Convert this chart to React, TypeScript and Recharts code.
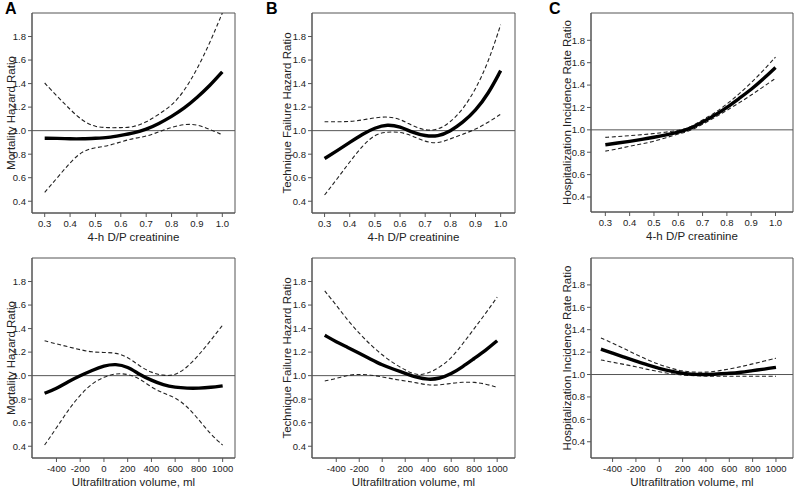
import { LineChart, Line, XAxis, YAxis, ReferenceLine, ReferenceArea } from "recharts"

// x grids
const dpX = [0.3, 0.35, 0.4, 0.45, 0.5, 0.55, 0.6, 0.65, 0.7, 0.75, 0.8, 0.85, 0.9, 0.95, 1.0]
const ufX = [-500, -400, -300, -200, -100, 0, 100, 200, 300, 400, 500, 600, 700, 800, 900, 1000]

// tick labels
const dpTicks = [0.3, 0.4, 0.5, 0.6, 0.7, 0.8, 0.9, 1.0]
const ufTicks = [-400, -200, 0, 200, 400, 600, 800, 1000]
const yTicks = [0.4, 0.6, 0.8, 1.0, 1.2, 1.4, 1.6, 1.8]

// A - mortality vs D/P creatinine
const mortDpEst = [0.935, 0.935, 0.93, 0.93, 0.935, 0.94, 0.96, 0.98, 1.01, 1.06, 1.12, 1.19, 1.28, 1.38, 1.5]
const mortDpUpper = [1.405, 1.29, 1.18, 1.08, 1.03, 1.025, 1.025, 1.03, 1.07, 1.14, 1.21, 1.335, 1.52, 1.74, 2.0]
const mortDpLower = [0.476, 0.6, 0.73, 0.83, 0.856, 0.87, 0.905, 0.935, 0.95, 0.99, 1.03, 1.055, 1.055, 1.01, 0.965]

// B - technique failure vs D/P creatinine
const techDpEst = [0.763, 0.83, 0.9, 0.97, 1.025, 1.054, 1.034, 0.985, 0.955, 0.95, 0.995, 1.07, 1.17, 1.31, 1.51]
const techDpUpper = [1.076, 1.076, 1.076, 1.09, 1.11, 1.12, 1.1, 1.04, 1.0, 1.005, 1.07, 1.18, 1.35, 1.575, 1.9]
const techDpLower = [0.453, 0.59, 0.735, 0.87, 0.97, 0.99, 0.99, 0.955, 0.905, 0.89, 0.93, 0.97, 1.01, 1.07, 1.14]

// C - hospitalization vs D/P creatinine
const hospDpEst = [0.867, 0.882, 0.897, 0.914, 0.933, 0.955, 0.979, 1.01, 1.07, 1.13, 1.2, 1.28, 1.36, 1.455, 1.557]
const hospDpUpper = [0.933, 0.94, 0.948, 0.957, 0.966, 0.98, 0.994, 1.02, 1.09, 1.15, 1.23, 1.32, 1.42, 1.53, 1.65]
const hospDpLower = [0.81, 0.83, 0.853, 0.875, 0.897, 0.93, 0.964, 0.99, 1.05, 1.11, 1.175, 1.24, 1.31, 1.385, 1.46]

// mortality vs ultrafiltration
const mortUfEst = [0.85, 0.89, 0.95, 1.0, 1.045, 1.085, 1.1, 1.076, 1.01, 0.96, 0.92, 0.9, 0.893, 0.893, 0.9, 0.913]
const mortUfUpper = [1.296, 1.27, 1.245, 1.22, 1.2, 1.197, 1.195, 1.16, 1.08, 1.025, 1.0, 1.0, 1.07, 1.175, 1.3, 1.43]
const mortUfLower = [0.41, 0.555, 0.71, 0.837, 0.935, 0.99, 1.02, 1.014, 0.977, 0.9, 0.85, 0.815, 0.74, 0.625, 0.5, 0.41]

// technique failure vs ultrafiltration
const techUfEst = [1.343, 1.287, 1.24, 1.19, 1.14, 1.09, 1.054, 1.02, 0.985, 0.965, 0.975, 1.014, 1.076, 1.146, 1.215, 1.297]
const techUfUpper = [1.72, 1.6, 1.47, 1.36, 1.26, 1.175, 1.104, 1.048, 1.0, 1.02, 1.07, 1.146, 1.27, 1.4, 1.53, 1.667]
const techUfLower = [0.955, 0.975, 1.005, 1.013, 1.005, 0.99, 0.97, 0.955, 0.94, 0.918, 0.92, 0.935, 0.945, 0.945, 0.93, 0.9]

// hospitalization vs ultrafiltration
const hospUfEst = [1.227, 1.19, 1.155, 1.12, 1.085, 1.055, 1.03, 1.01, 1.0, 1.0, 1.005, 1.01, 1.02, 1.035, 1.048, 1.064]
const hospUfUpper = [1.327, 1.28, 1.23, 1.18, 1.13, 1.09, 1.055, 1.03, 1.02, 1.02, 1.03, 1.05, 1.07, 1.095, 1.12, 1.145]
const hospUfLower = [1.13, 1.11, 1.09, 1.07, 1.045, 1.025, 1.005, 0.995, 0.99, 0.985, 0.985, 0.985, 0.985, 0.985, 0.985, 0.985]

const DP_LABEL = "4-h D/P creatinine"
const UF_LABEL = "Ultrafiltration volume, ml"

type Box = { x: number; y: number; w: number; h: number }

interface PanelProps {
  box: Box
  xs: number[]
  est: number[]
  upper: number[]
  lower: number[]
  xDomain: [number, number]
  yDomain: [number, number]
  xTicks: number[]
  xFmt: (v: number) => string
  xLabel: string
  yLabel: string
  yLabelGap: number
}

const YW = 36
const XH = 32
const PAD = 2

function Panel({ box, xs, est, upper, lower, xDomain, yDomain, xTicks, xFmt, xLabel, yLabel, yLabelGap }: PanelProps) {
  const data = xs.map((x, i) => ({ x, est: est[i], upper: upper[i], lower: lower[i] }))
  return (
    <div style={{ position: "absolute", left: box.x - YW, top: box.y - PAD }}>
      <LineChart
        width={YW + box.w + PAD}
        height={PAD + box.h + XH}
        data={data}
        margin={{ top: PAD, right: PAD, left: 0, bottom: 0 }}
      >
        <XAxis
          dataKey="x"
          type="number"
          domain={xDomain}
          allowDataOverflow
          ticks={xTicks}
          interval={0}
          tickFormatter={xFmt}
          height={XH}
          tickSize={4}
          tickMargin={3}
          stroke="#555"
          tick={{ fontSize: 9.5, fill: "#222" }}
          label={{ value: xLabel, position: "insideBottom", offset: 4, style: { fontSize: 11.5, fill: "#222" } }}
        />
        <YAxis
          type="number"
          domain={yDomain}
          allowDataOverflow
          ticks={yTicks}
          interval={0}
          tickFormatter={(v: number) => v.toFixed(1)}
          width={YW}
          tickSize={4}
          tickMargin={2}
          stroke="#555"
          tick={{ fontSize: 9.5, fill: "#222" }}
          label={{
            value: yLabel,
            angle: -90,
            position: "insideLeft",
            offset: YW - yLabelGap,
            style: { textAnchor: "middle", fontSize: 11.5, fill: "#222" },
          }}
        />
        <ReferenceArea
          x1={xDomain[0]}
          x2={xDomain[1]}
          y1={yDomain[0]}
          y2={yDomain[1]}
          fill="none"
          stroke="#555"
          strokeWidth={1}
          ifOverflow="visible"
        />
        <ReferenceLine y={1} stroke="#555" strokeWidth={1} />
        <Line dataKey="upper" type="basis" stroke="#222" strokeWidth={1.1} strokeDasharray="4 2.5" dot={false} isAnimationActive={false} />
        <Line dataKey="lower" type="basis" stroke="#222" strokeWidth={1.1} strokeDasharray="4 2.5" dot={false} isAnimationActive={false} />
        <Line dataKey="est" type="basis" stroke="#000" strokeWidth={3.4} dot={false} isAnimationActive={false} />
      </LineChart>
    </div>
  )
}

function Letter({ text, x }: { text: string; x: number }) {
  return (
    <div style={{ position: "absolute", left: x, top: 1, fontSize: 16, fontWeight: 700, lineHeight: "16px", color: "#000" }}>
      {text}
    </div>
  )
}

const fmtDp = (v: number) => v.toFixed(1)
const fmtUf = (v: number) => String(v)

export default function App() {
  return (
    <div
      style={{
        position: "absolute",
        left: 0,
        top: 0,
        width: 794,
        height: 490,
        background: "#fff",
        overflow: "hidden",
        fontFamily: "'Liberation Sans', Arial, sans-serif",
      }}
    >
      <Letter text="A" x={5} />
      <Letter text="B" x={266} />
      <Letter text="C" x={549} />

      <Panel box={{ x: 32, y: 13, w: 203, h: 200 }} xs={dpX} est={mortDpEst} upper={mortDpUpper} lower={mortDpLower}
        xDomain={[0.25, 1.05]} yDomain={[0.3, 2.0]} xTicks={dpTicks} xFmt={fmtDp}
        xLabel={DP_LABEL} yLabel="Mortality Hazard Ratio" yLabelGap={21} />
      <Panel box={{ x: 312, y: 13, w: 203, h: 200 }} xs={dpX} est={techDpEst} upper={techDpUpper} lower={techDpLower}
        xDomain={[0.25, 1.057]} yDomain={[0.3, 2.0]} xTicks={dpTicks} xFmt={fmtDp}
        xLabel={DP_LABEL} yLabel="Technique Failure Hazard Ratio" yLabelGap={25} />
      <Panel box={{ x: 591, y: 13, w: 202, h: 199 }} xs={dpX} est={hospDpEst} upper={hospDpUpper} lower={hospDpLower}
        xDomain={[0.241, 1.072]} yDomain={[0.266, 2.044]} xTicks={dpTicks} xFmt={fmtDp}
        xLabel={DP_LABEL} yLabel="Hospitalization Incidence Rate Ratio" yLabelGap={24} />

      <Panel box={{ x: 32, y: 258, w: 203, h: 200 }} xs={ufX} est={mortUfEst} upper={mortUfUpper} lower={mortUfLower}
        xDomain={[-606, 1104]} yDomain={[0.3, 2.0]} xTicks={ufTicks} xFmt={fmtUf}
        xLabel={UF_LABEL} yLabel="Mortality Hazard Ratio" yLabelGap={21} />
      <Panel box={{ x: 312, y: 258, w: 203, h: 200 }} xs={ufX} est={techUfEst} upper={techUfUpper} lower={techUfLower}
        xDomain={[-611, 1155]} yDomain={[0.3, 2.0]} xTicks={ufTicks} xFmt={fmtUf}
        xLabel={UF_LABEL} yLabel="Technique Failure Hazard Ratio" yLabelGap={25} />
      <Panel box={{ x: 591, y: 258, w: 202, h: 200 }} xs={ufX} est={hospUfEst} upper={hospUfUpper} lower={hospUfLower}
        xDomain={[-585, 1146]} yDomain={[0.255, 2.04]} xTicks={ufTicks} xFmt={fmtUf}
        xLabel={UF_LABEL} yLabel="Hospitalization Incidence Rate Ratio" yLabelGap={24} />
    </div>
  )
}
